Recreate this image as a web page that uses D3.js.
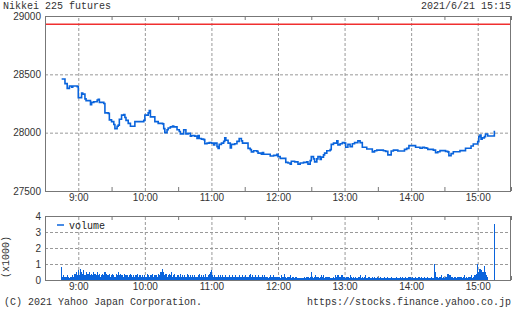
<!DOCTYPE html>
<html>
<head>
<meta charset="utf-8">
<script src="https://cdn.jsdelivr.net/npm/d3@7"></script>
<style>
    body { margin: 0; background: #fff; }
    svg { display: block; font-family: "Liberation Mono", "DejaVu Sans Mono", monospace; font-size: 10px; }
    .grid line { stroke: #999; stroke-dasharray: 3,2; }
    .grid path { display: none; }
    .minor line { stroke: #777; }
    .minor path { display: none; }
    .lbl text { fill: #333; }
    .lbl path, .lbl line { display: none; }
</style>
</head>
<body>
<script>
// price series, step points (time, price)
const priceTimes = [
    "8:45","8:48","8:50","8:52","8:54","8:55","8:59","9:00","9:03","9:04","9:06","9:07","9:10","9:11","9:12","9:14",
    "9:17","9:18","9:19","9:23","9:24","9:27","9:28","9:30","9:32","9:33","9:35","9:36","9:37","9:39","9:41","9:42",
    "9:43","9:45","9:47","9:51","9:56","9:59","10:00","10:03","10:04","10:05","10:09","10:12","10:16","10:17","10:18",
    "10:20","10:21","10:23","10:25","10:26","10:29","10:31","10:32","10:34","10:35","10:37","10:39","10:41","10:42",
    "10:45","10:47","10:48","10:49","10:51","10:53","10:54","10:56","10:58","11:00","11:02","11:03","11:05","11:06",
    "11:07","11:09","11:11","11:12","11:13","11:15","11:17","11:18","11:21","11:23","11:25","11:27","11:28","11:32",
    "11:33","11:35","11:36","11:38","11:41","11:42","11:45","11:46","11:47","11:50","11:53","11:56","11:59","12:00",
    "12:02","12:07","12:09","12:11","12:12","12:15","12:18","12:20","12:23","12:26","12:27","12:29","12:30","12:32",
    "12:33","12:35","12:36","12:38","12:39","12:41","12:42","12:44","12:47","12:48","12:50","12:53","12:54","12:56",
    "12:58","13:00","13:01","13:03","13:05","13:07","13:09","13:12","13:14","13:16","13:20","13:25","13:27","13:29",
    "13:35","13:37","13:39","13:42","13:44","13:48","13:54","13:56","13:58","14:04","14:08","14:10","14:12","14:14",
    "14:15","14:20","14:22","14:24","14:26","14:31","14:33","14:34","14:36","14:38","14:44","14:49","14:54","14:56",
    "15:00","15:01","15:02","15:03","15:04","15:06","15:07","15:09","15:15"
];
const priceValues = [
    28460,28420,28380,28400,28390,28400,28395,28300,28340,28330,28290,28275,28275,28240,28260,28265,
    28280,28285,28260,28250,28170,28165,28110,28095,28070,28035,28055,28065,28115,28150,28155,28130,
    28105,28080,28055,28095,28095,28105,28150,28170,28190,28135,28095,28080,28075,28035,28000,
    28025,28040,28050,28057,28050,28025,28010,27990,27990,28025,27990,27995,27970,27975,
    27970,27950,27975,27950,27945,27940,27905,27910,27915,27910,27895,27910,27880,27865,
    27900,27910,27925,27955,27935,27910,27870,27900,27905,27925,27950,27930,27910,27910,
    27865,27855,27835,27845,27840,27825,27815,27830,27815,27815,27800,27805,27815,27795,
    27780,27745,27740,27730,27755,27750,27730,27740,27745,27750,27730,27760,27795,27775,
    27750,27775,27795,27770,27790,27810,27825,27845,27855,27900,27910,27930,27895,27905,
    27915,27910,27875,27900,27880,27905,27915,27930,27915,27875,27860,27835,27845,27850,
    27845,27840,27810,27843,27850,27843,27857,27865,27889,27875,27866,27874,27870,27866,
    27857,27850,27829,27837,27846,27840,27835,27803,27820,27837,27846,27866,27886,27903,
    27923,27966,27980,27943,27955,27966,27989,27971,28017
];
const prevClose = 28930;

// volume per minute from 8:45, in hundreds
const volumeStart = "8:45";
const volumeHundreds = [
    8,2,3,2,2,3,2,1,2,2,3,2,4,5,3,
    6,3,7,5,4,6,3,5,4,4,5,3,4,3,5,
    4,3,5,3,4,2,3,4,3,5,4,3,3,4,2,
    3,4,3,2,4,3,5,3,4,3,3,2,4,3,3,
    2,3,4,3,2,3,2,3,4,2,3,3,2,3,2,
    3,2,4,3,2,3,3,4,2,3,3,2,4,3,5,
    5,7,5,3,4,2,3,4,3,5,2,3,4,2,3,
    3,2,4,2,3,2,3,2,4,3,2,3,2,3,2,
    3,2,2,3,4,2,3,2,3,2,4,2,3,4,5,
    6,3,2,3,2,2,3,2,3,2,3,2,2,3,2,
    2,3,2,2,3,2,2,3,2,2,3,2,2,3,2,
    2,3,2,2,3,4,2,3,2,2,3,2,3,2,2,
    2,3,2,3,2,2,1,2,3,2,2,3,2,2,2,
    2,2,1,3,2,2,4,2,1,2,2,3,1,2,2,
    1,2,2,1,1,1,1,1,1,2,1,2,2,1,2,
    5,2,1,2,3,2,2,1,2,3,2,3,1,2,2,
    2,2,1,1,1,2,1,3,2,3,2,2,3,3,2,
    2,1,2,2,1,3,2,1,2,1,2,1,1,2,3,
    1,2,1,2,3,1,1,2,1,1,2,1,2,1,1,
    2,1,2,1,1,1,2,1,1,2,1,1,2,1,1,
    1,1,2,1,1,2,1,2,1,1,2,1,1,2,2,
    1,2,1,1,2,1,1,2,1,2,1,1,2,1,1,
    2,1,1,2,1,1,10,5,2,2,1,2,3,1,2,
    1,2,2,4,4,3,2,2,1,2,2,1,2,2,2,
    2,1,2,3,1,2,1,2,2,3,1,2,3,3,4,
    10,5,7,6,5,5,9,5,3,2,0,0,0,0,0,
    35
];

const hourTicks = ["9:00","10:00","11:00","12:00","13:00","14:00","15:00"];
const halfHourTicks = ["9:30","10:30","11:30","12:30","13:30","14:30","15:30"];
const priceTicks = [27500, 28000, 28500, 29000];
const volumeTicks = [0, 1000, 2000, 3000, 4000];

const toMin = s => { const [h, m] = s.split(':').map(Number); return h * 60 + m; };

const W = 512, H = 310;
const left = 45, right = 511;
const main = { top: 16, bottom: 191 };
const vol = { top: 216, bottom: 280 };
const blue = '#0a64dc';

const svg = d3.select('body').append('svg').attr('width', W).attr('height', H);

const x = d3.scaleLinear().domain([toMin("8:30"), toMin("15:30")]).range([left, right]);
const yP = d3.scaleLinear().domain([27500, 29000]).range([main.bottom, main.top]);
const yV = d3.scaleLinear().domain([0, 4000]).range([vol.bottom, vol.top]);

function panel(box, y, yTicks, yFmt) {
    const h = box.bottom - box.top;
    // vertical dashed grid at hours
    svg.append('g').attr('class', 'grid')
        .attr('transform', `translate(0,${box.bottom})`)
        .call(d3.axisBottom(x).tickValues(hourTicks.map(toMin)).tickSize(-h).tickFormat(''));
    // horizontal dashed grid
    svg.append('g').attr('class', 'grid')
        .attr('transform', `translate(${left},0)`)
        .call(d3.axisLeft(y).tickValues(yTicks.slice(1, -1)).tickSize(-(right - left)).tickFormat(''));
    // half hour ticks on top and bottom edges
    svg.append('g').attr('class', 'minor')
        .attr('transform', `translate(0,${box.top})`)
        .call(d3.axisBottom(x).tickValues(halfHourTicks.map(toMin)).tickSize(4).tickFormat(''));
    svg.append('g').attr('class', 'minor')
        .attr('transform', `translate(0,${box.bottom})`)
        .call(d3.axisTop(x).tickValues(halfHourTicks.map(toMin)).tickSize(4).tickFormat(''));
    // y labels
    svg.append('g').attr('class', 'lbl')
        .attr('transform', `translate(${left - 4},0)`)
        .call(d3.axisLeft(y).tickValues(yTicks).tickSize(0).tickPadding(0).tickFormat(yFmt));
    // x labels
    svg.append('g').attr('class', 'lbl')
        .attr('transform', `translate(0,${box.bottom + 3})`)
        .call(d3.axisBottom(x).tickValues(hourTicks.map(toMin)).tickSize(0).tickPadding(0)
            .tickFormat((d, i) => hourTicks[i]));
}

function frame(box) {
    svg.append('rect')
        .attr('x', left + 0.5).attr('y', box.top + 0.5)
        .attr('width', right - left - 1).attr('height', box.bottom - box.top)
        .attr('fill', 'none').attr('stroke', '#777').attr('stroke-width', 1);
}

panel(main, yP, priceTicks, d => d);
panel(vol, yV, volumeTicks, d => d / 1000);

// previous close
svg.append('line')
    .attr('x1', left).attr('x2', right)
    .attr('y1', yP(prevClose)).attr('y2', yP(prevClose))
    .attr('stroke', '#f03030').attr('stroke-width', 1.5);

// price step line
const pricePts = priceTimes.map((t, i) => [toMin(t), priceValues[i]]);
svg.append('path')
    .datum(pricePts)
    .attr('fill', 'none').attr('stroke', blue).attr('stroke-width', 1.6)
    .attr('d', d3.line().x(d => x(d[0])).y(d => yP(d[1])).curve(d3.curveStepAfter));

// volume bars
const v0 = toMin(volumeStart);
const barW = x(v0 + 1) - x(v0);
svg.append('g').selectAll('rect')
    .data(volumeHundreds.map((v, i) => [v0 + i, v * 100]).filter(d => d[1] > 0))
    .join('rect')
    .attr('x', d => x(d[0]) - 0.5).attr('width', barW)
    .attr('y', d => yV(d[1])).attr('height', d => vol.bottom - yV(d[1]))
    .attr('fill', blue).attr('shape-rendering', 'crispEdges');

frame(main);
frame(vol);

// legend
svg.append('line').attr('x1', 57).attr('x2', 64).attr('y1', 225).attr('y2', 225)
    .attr('stroke', blue).attr('stroke-width', 1.5);
svg.append('text').attr('x', 69).attr('y', 228.5).attr('fill', '#222').text('volume');

// unit label
svg.append('text')
    .attr('transform', 'translate(9,257) rotate(-90)')
    .attr('text-anchor', 'middle').attr('fill', '#333').text('(x1000)');

// header and footer
svg.append('text').attr('x', 3).attr('y', 9).attr('fill', '#333').text('Nikkei 225 futures');
svg.append('text').attr('x', 511).attr('y', 9).attr('text-anchor', 'end').attr('fill', '#333').text('2021/6/21 15:15');
svg.append('text').attr('x', 4).attr('y', 305).attr('fill', '#333').text('(C) 2021 Yahoo Japan Corporation.');
svg.append('text').attr('x', 511).attr('y', 305).attr('text-anchor', 'end').attr('fill', '#333').text('https://stocks.finance.yahoo.co.jp');
</script>
</body>
</html>
